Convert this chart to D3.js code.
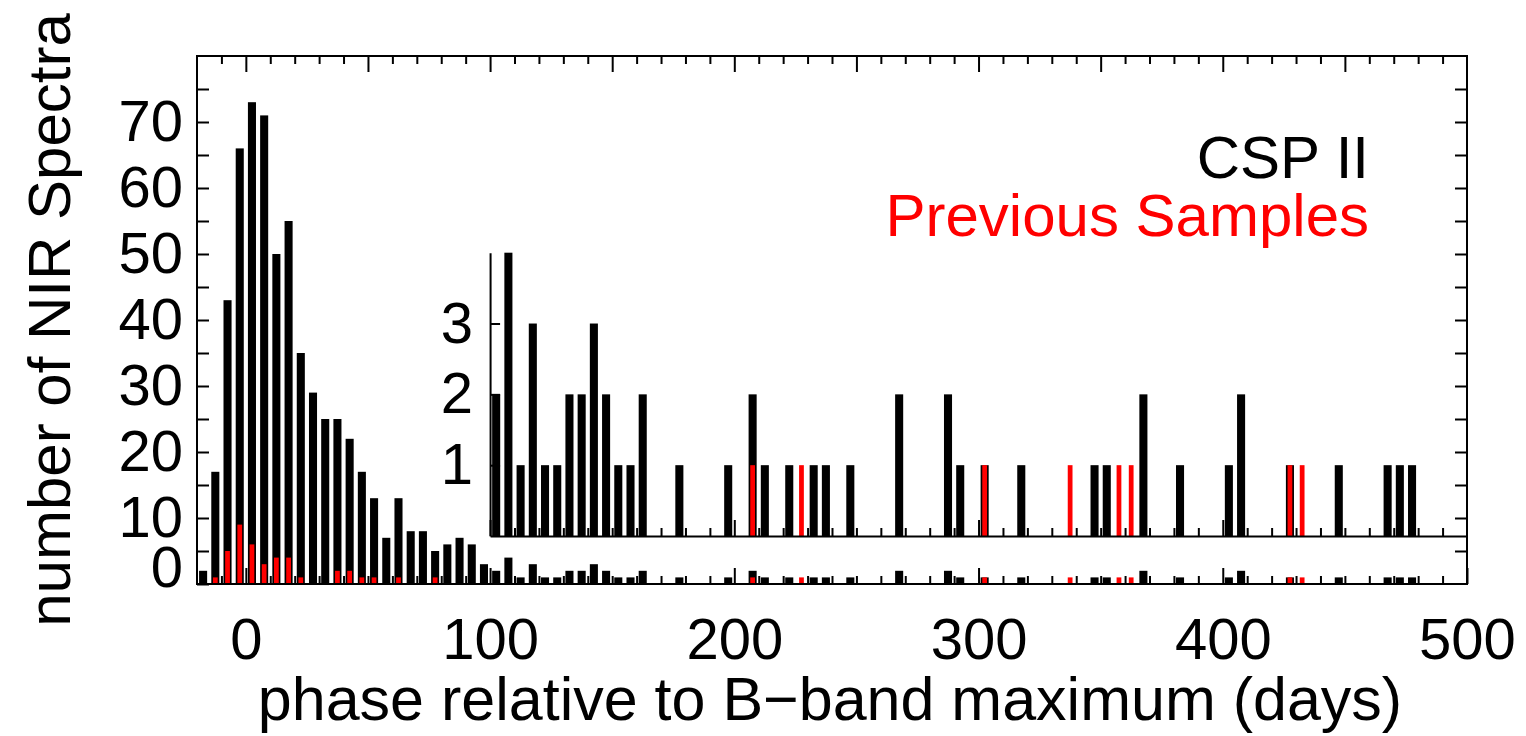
<!DOCTYPE html>
<html>
<head>
<meta charset="utf-8">
<script src="https://cdn.jsdelivr.net/npm/d3@7"></script>
<style>
  html, body { margin: 0; padding: 0; background: #fff; }
  svg { display: block; font-family: "Liberation Sans", Arial, Helvetica, sans-serif; }
</style>
</head>
<body>
<svg id="chart" width="1526" height="736"></svg>
<script>
// 5-day phase bins (bin centres, days relative to B-band maximum)
const cspPhase = [-17.5, -12.5, -7.5, -2.5, 2.5, 7.5, 12.5, 17.5, 22.5, 27.5, 32.5, 37.5, 42.5, 47.5,
  52.5, 57.5, 62.5, 67.5, 72.5, 77.5, 82.5, 87.5, 92.5, 97.5, 102.5, 107.5, 112.5, 117.5, 122.5,
  127.5, 132.5, 137.5, 142.5, 147.5, 152.5, 157.5, 162.5, 177.5, 197.5, 207.5, 212.5, 222.5, 232.5,
  237.5, 247.5, 267.5, 287.5, 292.5, 302.5, 317.5, 347.5, 352.5, 367.5, 382.5, 402.5, 407.5, 427.5,
  447.5, 467.5, 472.5, 477.5];
const cspCount = [2, 17, 43, 66, 73, 71, 50, 55, 35, 29, 25, 25, 22, 17,
  13, 7, 13, 8, 8, 5, 6, 7, 6, 3, 2, 4, 1, 3, 1,
  1, 2, 2, 3, 2, 1, 1, 2, 1, 1, 2, 1, 1, 1,
  1, 1, 2, 2, 1, 1, 1, 1, 1, 2, 1, 1, 2, 1,
  1, 1, 1, 1];

const prevPhase = [-12.5, -7.5, -2.5, 2.5, 7.5, 12.5, 17.5, 22.5, 37.5, 42.5, 47.5, 52.5, 62.5, 77.5,
  207.5, 227.5, 302.5, 337.5, 357.5, 362.5, 427.5, 432.5];
const prevCount = [1, 5, 9, 6, 3, 4, 4, 1, 2, 2, 1, 1, 1, 1,
  1, 1, 1, 1, 1, 1, 1, 1];

const xLabels = [0, 100, 200, 300, 400, 500];
const yLabels = [0, 10, 20, 30, 40, 50, 60, 70];
const insetLabels = [1, 2, 3];

(function () {
  const csp = cspPhase.map((p, i) => ({ phase: p, n: cspCount[i] }));
  const prev = prevPhase.map((p, i) => ({ phase: p, n: prevCount[i] }));

  const svg = d3.select("#chart");
  const FS_TICK = 58, FS_TITLE = 61, FS_LEGEND = 60;

  const pL = 197, pR = 1467, pT = 56, pB = 584;
  const x = d3.scaleLinear().domain([-20, 500]).range([pL, pR]);
  const y = d3.scaleLinear().domain([0, 80]).range([pB, pT]);

  // inset: late-time zoom of the same histogram
  const insetStart = 100;
  const xIn = d3.scaleLinear().domain([insetStart, 500]).range([x(insetStart), pR]);
  const yIn = d3.scaleLinear().domain([0, 4]).range([536, 252.7]);

  const blackW = 3.3, redW = 1.95; // bar widths in days

  function drawBars(g, data, xs, ys, w, color) {
    g.selectAll(null).data(data).join("rect")
      .attr("x", d => xs(d.phase - w / 2))
      .attr("width", d => xs(d.phase + w / 2) - xs(d.phase - w / 2))
      .attr("y", d => ys(d.n))
      .attr("height", d => ys(0) - ys(d.n))
      .attr("fill", color);
  }

  // main histogram
  const gMain = svg.append("g");
  drawBars(gMain, csp, x, y, blackW, "#000");
  drawBars(gMain, prev, x, y, redW, "#ff0000");

  // inset histogram
  const gIn = svg.append("g");
  drawBars(gIn, csp.filter(d => d.phase > insetStart), xIn, yIn, blackW, "#000");
  drawBars(gIn, prev.filter(d => d.phase > insetStart), xIn, yIn, redW, "#ff0000");

  function styleAxis(g) {
    g.selectAll(".tick line").attr("stroke", "#000").attr("stroke-width", 2);
    g.selectAll(".tick text").attr("fill", "#000").attr("font-size", FS_TICK)
      .attr("font-family", '"Liberation Sans", Arial, Helvetica, sans-serif');
    return g;
  }

  const tens = d3.range(-10, 500, 10);

  // bottom axis: minor every 10 days, major every 100 with labels
  svg.append("g").attr("transform", `translate(0,${pB})`)
    .call(d3.axisBottom(x).tickValues(tens.filter(v => v % 100 !== 0)).tickSize(-8).tickFormat(""))
    .call(g => g.select(".domain").remove()).call(styleAxis);
  svg.append("g").attr("transform", `translate(0,${pB})`)
    .call(d3.axisBottom(x).tickValues(xLabels).tickSize(-16).tickPadding(34).tickFormat(d3.format("d")))
    .call(g => g.select(".domain").remove()).call(styleAxis);

  // top axis: minor every 10 days, major every 50
  svg.append("g").attr("transform", `translate(0,${pT})`)
    .call(d3.axisTop(x).tickValues(tens.filter(v => v % 50 !== 0)).tickSize(-8).tickFormat(""))
    .call(g => g.select(".domain").remove()).call(styleAxis);
  svg.append("g").attr("transform", `translate(0,${pT})`)
    .call(d3.axisTop(x).tickValues(d3.range(0, 500, 50)).tickSize(-16).tickFormat(""))
    .call(g => g.select(".domain").remove()).call(styleAxis);

  // left axis
  svg.append("g").attr("transform", `translate(${pL},0)`)
    .call(d3.axisLeft(y).tickValues(d3.range(5, 80, 10)).tickSize(-12).tickFormat(""))
    .call(g => g.select(".domain").remove()).call(styleAxis);
  svg.append("g").attr("transform", `translate(${pL},0)`)
    .call(d3.axisLeft(y).tickValues(yLabels).tickSize(-12).tickPadding(14).tickFormat(d3.format("d")))
    .call(g => g.select(".domain").remove()).call(styleAxis)
    .call(g => g.selectAll(".tick text").filter(d => d === 0).attr("y", -16));

  // right axis
  svg.append("g").attr("transform", `translate(${pR},0)`)
    .call(d3.axisRight(y).tickValues(d3.range(5, 80, 5)).tickSize(-12).tickFormat(""))
    .call(g => g.select(".domain").remove()).call(styleAxis);

  // inset axes
  svg.append("g").attr("transform", `translate(${x(insetStart)},0)`)
    .call(d3.axisLeft(yIn).tickValues(insetLabels).tickSize(-10).tickSizeOuter(0).tickPadding(17).tickFormat(d3.format("d")))
    .call(styleAxis)
    .call(g => g.select(".domain").attr("stroke", "#000").attr("stroke-width", 2));
  svg.append("g").attr("transform", `translate(0,${yIn(0)})`)
    .call(d3.axisBottom(xIn).tickValues(d3.range(110, 500, 10).filter(v => v % 100 !== 0)).tickSize(-8).tickSizeOuter(0).tickFormat(""))
    .call(styleAxis)
    .call(g => g.select(".domain").attr("stroke", "#000").attr("stroke-width", 2));
  svg.append("g").attr("transform", `translate(0,${yIn(0)})`)
    .call(d3.axisBottom(xIn).tickValues([100, 200, 300, 400]).tickSize(-16).tickFormat(""))
    .call(g => g.select(".domain").remove()).call(styleAxis);

  // plot frame
  svg.append("rect")
    .attr("x", pL).attr("y", pT)
    .attr("width", pR - pL).attr("height", pB - pT)
    .attr("fill", "none").attr("stroke", "#000").attr("stroke-width", 2);

  // axis titles
  svg.append("text")
    .attr("x", 830).attr("y", 720)
    .attr("text-anchor", "middle").attr("font-size", FS_TITLE)
    .text("phase relative to B\u2212band maximum (days)");
  svg.append("text")
    .attr("transform", "translate(70,320) rotate(-90)")
    .attr("text-anchor", "middle").attr("font-size", FS_TITLE - 1)
    .text("number of NIR Spectra");

  // legend
  svg.append("text").attr("x", 1369).attr("y", 178)
    .attr("text-anchor", "end").attr("font-size", FS_LEGEND).attr("fill", "#000")
    .text("CSP II");
  svg.append("text").attr("x", 1369).attr("y", 236)
    .attr("text-anchor", "end").attr("font-size", FS_LEGEND).attr("fill", "#ff0000")
    .text("Previous Samples");
})();
</script>
</body>
</html>
